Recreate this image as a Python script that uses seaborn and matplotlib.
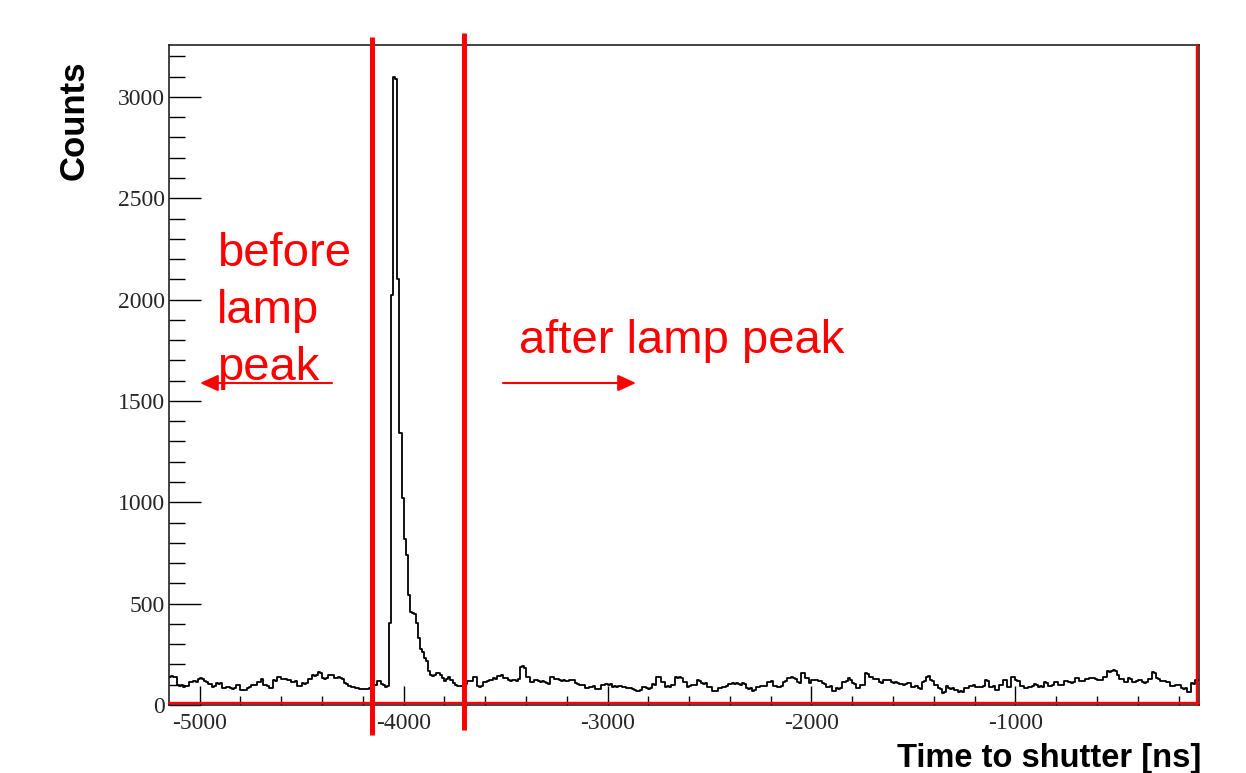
import numpy as np
import pandas as pd
import matplotlib
matplotlib.use("Agg")
import matplotlib.pyplot as plt
import matplotlib.transforms as mtransforms
from matplotlib.ticker import MultipleLocator
import seaborn as sns

# ---------------- data (10 ns bins starting at -5150 ns) ----------------
BIN_START = -5150
BIN_WIDTH = 10

before_peak = [
    140, 142, 140, 138, 99, 92, 97, 90, 96, 93, 112, 115, 118, 115, 128, 135, 130,
    118, 112, 102, 104, 90, 92, 107, 105, 108, 82, 84, 90, 88, 82, 80, 84, 99, 97,
    74, 76, 72, 85, 87, 99, 97, 100, 115, 112, 128, 99, 97, 95, 82, 84, 123, 120,
    140, 138, 128, 126, 130, 123, 121, 115, 113, 117, 94, 92, 107, 105, 108, 128, 130,
    148, 145, 150, 161, 158, 132, 130, 134, 148, 146, 150, 135, 132, 138,
    132, 130, 107, 105, 92, 90, 88, 85, 82, 80, 78, 79, 80, 78, 85, 90, 99, 97,
    118, 120, 102, 100, 90, 92,
]

peak = [
    405, 2024, 3100, 3090, 2100, 1342, 1019, 817, 738, 541, 458, 455, 450, 405,
    333, 275, 260, 233, 218, 166, 150, 145, 150, 160, 158, 150, 135, 120, 130,
    140, 125, 108, 100, 96, 94, 96, 105,
]

after_peak_1 = [
    105, 118, 118, 120, 140, 138, 95, 90, 92, 115, 112, 120, 123, 125, 132, 130,
    145, 143, 147, 135, 133, 123, 120,
    123, 125, 120, 130, 189, 192, 185, 140, 138, 115, 112, 123, 125, 120, 115, 117,
    113, 107, 105, 140, 138, 128, 126, 123, 120, 124, 118, 116, 123, 121, 125, 107,
    105, 99, 97, 100, 82, 84, 90, 88, 92, 79, 77, 80, 99, 97, 102, 100, 104, 90, 92,
    88, 95, 93, 87, 89, 85, 85, 84, 77, 75, 69, 70, 72, 90, 88, 82, 80, 84, 102, 100,
    140, 138, 115, 112, 90, 92, 88, 99, 97, 140, 135, 138,
]

after_peak_2 = [
    132, 115, 112, 90, 92, 99, 97, 100, 123, 120, 107, 105, 109, 90, 88, 69, 71, 68,
    82, 84, 90, 88, 92, 102, 104, 107, 105, 109, 102, 100, 107, 105, 82, 80, 84, 69,
    72, 90, 88, 92, 94, 96, 115, 113, 117, 95, 93, 90, 88, 92, 115, 117, 135, 133,
    137, 132, 130, 112, 110, 156, 158, 135, 133, 107, 123, 121, 125, 118, 116, 107,
    105, 90, 88, 92, 69, 71, 82, 80, 84, 115, 113, 117, 132,
]

after_peak_3 = [
    123, 107, 105, 82, 84, 99, 97, 156, 154, 140, 138, 128, 126, 130, 112, 110, 123,
    121, 125, 122, 112, 110, 114, 107, 105, 102, 100, 104, 107, 109, 90, 88, 92, 82,
    80, 115, 118, 140, 142, 123, 120, 99, 97, 82, 80, 58, 62, 95, 82, 80, 84, 74, 76,
    66, 68, 65, 85, 83, 95, 93, 97, 87, 89, 90, 88, 92, 123, 120, 90, 88, 92, 74, 76,
    99, 97, 123, 125, 90, 88, 140, 138, 123, 120,
]

after_peak_4 = [
    95, 93, 82, 84, 90, 88, 92, 102, 100, 90, 92, 88, 112, 110, 95, 93, 97, 115, 113,
    99, 97, 101, 118, 116, 112, 110, 114, 135, 133, 118, 116, 120, 128, 126, 135, 132,
    132, 130, 123, 121, 125, 140, 138, 168, 165, 170, 173, 170, 148, 128, 126, 115,
    113, 132, 130, 115, 113, 117, 123, 121, 112, 110, 114, 128, 126, 161, 158, 132,
    130, 118, 116, 120, 115, 113, 95, 93, 97, 99, 97, 82, 80, 84, 62, 65, 107, 105,
    123, 125,
]

cut_positions = [-4157, -3706]          # red vertical cuts [ns]
x_ticks_major = 1000
x_ticks_minor = 200
y_ticks_major = 500
y_ticks_minor = 100

counts = np.array(before_peak + peak + after_peak_1 + after_peak_2 + after_peak_3 + after_peak_4, dtype=float)
n_bins = len(counts)
bin_end = BIN_START + BIN_WIDTH * n_bins
centers = BIN_START + BIN_WIDTH * (np.arange(n_bins) + 0.5)
df = pd.DataFrame({"time": centers, "counts": counts})

# ---------------- figure ----------------
W, H = 1246, 773
sns.set_theme(style="white")
plt.rcParams["font.family"] = ["Liberation Serif", "DejaVu Serif"]
plt.rcParams["axes.unicode_minus"] = False

fig = plt.figure(figsize=(W / 100, H / 100), dpi=100)
fig.patch.set_facecolor("white")
ax = fig.add_axes([169 / W, 1 - 705 / H, 1030 / W, 660 / H])
ax.set_facecolor("white")

sns.histplot(data=df, x="time", weights="counts", binwidth=BIN_WIDTH,
             binrange=(BIN_START, bin_end), element="step",
             fill=False, color="black", linewidth=1.3, ax=ax, zorder=3)

ax.set_xlim(-5150, -100)
ax.set_ylim(0, 3256)
ax.set_xlabel("")
ax.set_ylabel("")

ax.xaxis.set_major_locator(MultipleLocator(x_ticks_major))
ax.xaxis.set_minor_locator(MultipleLocator(x_ticks_minor))
ax.yaxis.set_major_locator(MultipleLocator(y_ticks_major))
ax.yaxis.set_minor_locator(MultipleLocator(y_ticks_minor))
ax.tick_params(axis="both", which="both", direction="in", top=False, right=False,
               bottom=True, left=True, color="black", width=1.0)
ax.tick_params(axis="y", which="major", length=23, pad=3, labelsize=17)
ax.tick_params(axis="y", which="minor", length=11.5)
ax.tick_params(axis="x", which="major", length=13.5, pad=6, labelsize=17)
ax.tick_params(axis="x", which="minor", length=6.5)
for s in ax.spines.values():
    s.set_color("#222222")
    s.set_linewidth(1.2)
    s.set_visible(True)

# red frame traces along bottom and right edge
up = ax.transAxes + mtransforms.ScaledTranslation(0, 1.6 / 100, fig.dpi_scale_trans)
left = ax.transAxes + mtransforms.ScaledTranslation(-1.6 / 100, 0, fig.dpi_scale_trans)
ax.plot([0, 1], [0, 0], transform=up, color="red", lw=1.7, clip_on=False, zorder=6)
ax.plot([1, 1], [0, 1], transform=left, color="red", lw=1.7, clip_on=False, zorder=6)

# red vertical cut lines, extending beyond the frame
def px2y(py):
    return (705 - py) / 660 * 3256

ax.plot([cut_positions[0]] * 2, [px2y(735), px2y(37)], color="red", lw=3.6,
        solid_capstyle="butt", clip_on=False, zorder=7)
ax.plot([cut_positions[1]] * 2, [px2y(730), px2y(33)], color="red", lw=3.6,
        solid_capstyle="butt", clip_on=False, zorder=7)

# arrows
def px2x(px):
    return -5150 + (px - 169) / 1030 * 5050

arrow_kw = dict(arrowstyle="-|>,head_length=1.1,head_width=0.5", color="red",
                lw=1.5, shrinkA=0, shrinkB=0, mutation_scale=10)
ax.annotate("", xy=(px2x(200), px2y(383)), xytext=(px2x(332), px2y(383)),
            arrowprops=arrow_kw, annotation_clip=False)
ax.annotate("", xy=(px2x(636), px2y(383)), xytext=(px2x(503), px2y(383)),
            arrowprops=arrow_kw, annotation_clip=False)

# annotation texts
red_font = dict(color="red", fontsize=34, family=["Liberation Sans", "DejaVu Sans"],
                va="baseline", ha="left")
fig.text(217 / W, 1 - 266 / H, "before", **red_font)
fig.text(217 / W, 1 - 323 / H, "lamp", **red_font)
fig.text(217 / W, 1 - 380 / H, "peak", **red_font)
fig.text(519 / W, 1 - 353 / H, "after lamp peak", **red_font)

# axis titles
lab_font = dict(color="black", fontweight="bold",
                family=["Liberation Sans", "DejaVu Sans"])
fig.text(74 / W, 1 - 120 / H, "Counts", rotation=90, ha="center", va="center",
         fontsize=25, **lab_font)
fig.text(1201 / W, 1 - 767 / H, "Time to shutter [ns]", ha="right", va="baseline",
         fontsize=23.5, **lab_font)

fig.savefig("out.png", dpi=100, facecolor="white")
